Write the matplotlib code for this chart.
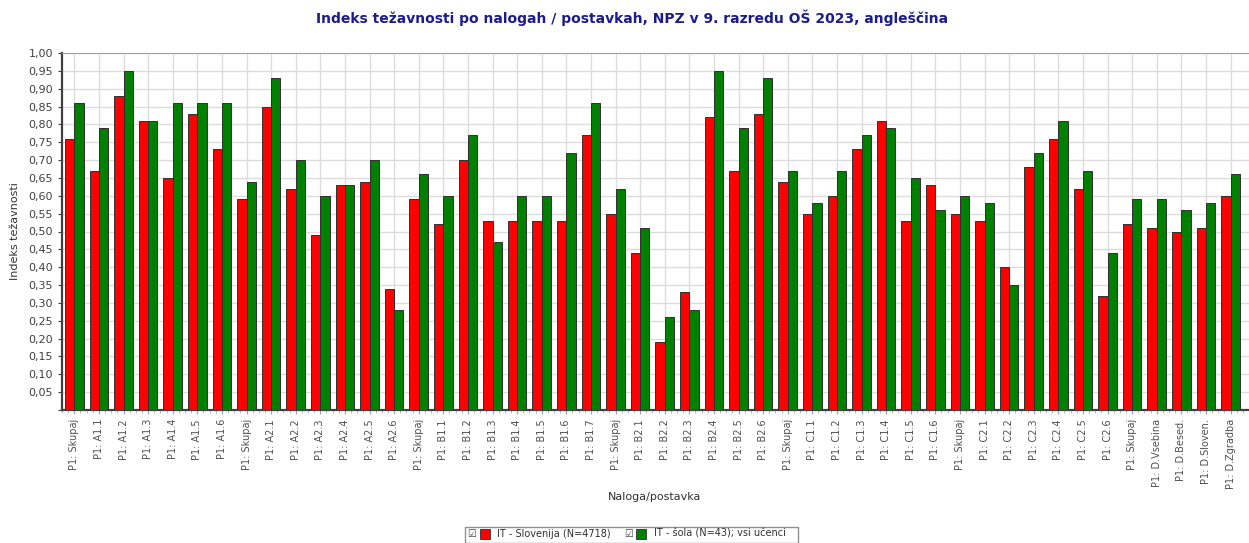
import numpy as np
import matplotlib.pyplot as plt
from matplotlib.patches import Rectangle
from matplotlib.ticker import FuncFormatter, MultipleLocator

labels = [
    "P1: Skupaj", "P1: A1.1", "P1: A1.2", "P1: A1.3", "P1: A1.4", "P1: A1.5", "P1: A1.6",
    "P1: Skupaj", "P1: A2.1", "P1: A2.2", "P1: A2.3", "P1: A2.4", "P1: A2.5", "P1: A2.6",
    "P1: Skupaj", "P1: B1.1", "P1: B1.2", "P1: B1.3", "P1: B1.4", "P1: B1.5", "P1: B1.6", "P1: B1.7",
    "P1: Skupaj", "P1: B2.1", "P1: B2.2", "P1: B2.3", "P1: B2.4", "P1: B2.5", "P1: B2.6",
    "P1: Skupaj", "P1: C1.1", "P1: C1.2", "P1: C1.3", "P1: C1.4", "P1: C1.5", "P1: C1.6",
    "P1: Skupaj", "P1: C2.1", "P1: C2.2", "P1: C2.3", "P1: C2.4", "P1: C2.5", "P1: C2.6",
    "P1: Skupaj", "P1: D.Vsebina", "P1: D.Besed.", "P1: D.Sloven.", "P1: D.Zgradba",
]

slovenija = [
    0.76, 0.67, 0.88, 0.81, 0.65, 0.83, 0.73,
    0.59, 0.85, 0.62, 0.49, 0.63, 0.64, 0.34,
    0.59, 0.52, 0.70, 0.53, 0.53, 0.53, 0.53, 0.77,
    0.55, 0.44, 0.19, 0.33, 0.82, 0.67, 0.83,
    0.64, 0.55, 0.60, 0.73, 0.81, 0.53, 0.63,
    0.55, 0.53, 0.40, 0.68, 0.76, 0.62, 0.32,
    0.52, 0.51, 0.50, 0.51, 0.60,
]

sola = [
    0.86, 0.79, 0.95, 0.81, 0.86, 0.86, 0.86,
    0.64, 0.93, 0.70, 0.60, 0.63, 0.70, 0.28,
    0.66, 0.60, 0.77, 0.47, 0.60, 0.60, 0.72, 0.86,
    0.62, 0.51, 0.26, 0.28, 0.95, 0.79, 0.93,
    0.67, 0.58, 0.67, 0.77, 0.79, 0.65, 0.56,
    0.60, 0.58, 0.35, 0.72, 0.81, 0.67, 0.44,
    0.59, 0.59, 0.56, 0.58, 0.66,
]

series = ["IT - Slovenija (N=4718)", "IT - šola (N=43); vsi učenci"]
colors = ["#ff0000", "#008000"]

W, H = 1249, 543


def fx(px):
    return px / W


def fy(py):
    # pixel row from top -> figure fraction
    return 1 - py / H


x = np.arange(len(labels))
w = 0.38

fig = plt.figure(figsize=(12.49, 5.43), dpi=100)
ax = fig.add_axes([fx(62), fy(410), 1 - fx(62), 357 / H])

ax.bar(x - w / 2, slovenija, w, color=colors[0], edgecolor="#303030", linewidth=0.7, zorder=3)
ax.bar(x + w / 2, sola, w, color=colors[1], edgecolor="#303030", linewidth=0.7, zorder=3)

ax.set_xlim(-0.42, 47.55)
ax.set_ylim(0, 1.0)
ax.yaxis.set_major_locator(MultipleLocator(0.05))
ax.yaxis.set_major_formatter(FuncFormatter(lambda v, p: "" if v < 0.01 else f"{v:.2f}".replace(".", ",")))
ax.set_xticks(x)
ax.set_xticklabels(labels, rotation=90, fontsize=7, color="#505050")
ax.tick_params(axis="y", labelsize=8, colors="#404040", length=3)
ax.tick_params(axis="x", length=3, colors="#a0a0a0", labelcolor="#505050")
ax.set_xticks(np.arange(-0.5, 48, 0.25), minor=True)
ax.tick_params(axis="x", which="minor", length=2, colors="#b0b0b0")

ax.grid(True, color="#dcdcdc", linewidth=1.0, zorder=0)
ax.set_axisbelow(True)
for s in ["left", "bottom"]:
    ax.spines[s].set_color("#404040")
    ax.spines[s].set_linewidth(1.6)
ax.spines["top"].set_color("#a0a0a0")
ax.spines["right"].set_visible(False)

ax.set_ylabel("Indeks težavnosti", fontsize=8, color="#303030", labelpad=6)
fig.text(fx(655), fy(497), "Naloga/postavka", fontsize=8, color="#303030", ha="center", va="center")

fig.text(fx(632), fy(18), "Indeks težavnosti po nalogah / postavkah, NPZ v 9. razredu OŠ 2023, angleščina",
         ha="center", va="center", fontsize=10, fontweight="bold", color="#1c1c8c")

# legend drawn like the original control: checkbox, colour box, text
fig.patches.append(Rectangle((fx(465), fy(543)), fx(798) - fx(465), 16 / H, transform=fig.transFigure,
                             facecolor="white", edgecolor="#909090", linewidth=1.0))
for cb_x, sw_x, tx_x, lab, col in [(467, 480, 497, series[0], colors[0]), (624, 636, 654, series[1], colors[1])]:
    fig.text(fx(cb_x), fy(534), "☑", fontsize=7, va="center", ha="left", color="#404040")
    fig.patches.append(Rectangle((fx(sw_x), fy(539)), 10 / W, 10 / H, transform=fig.transFigure,
                                 facecolor=col, edgecolor="#303030", linewidth=0.6))
    fig.text(fx(tx_x), fy(534), lab, fontsize=7, va="center", ha="left", color="#303030")

fig.savefig("out.png", dpi=100)
